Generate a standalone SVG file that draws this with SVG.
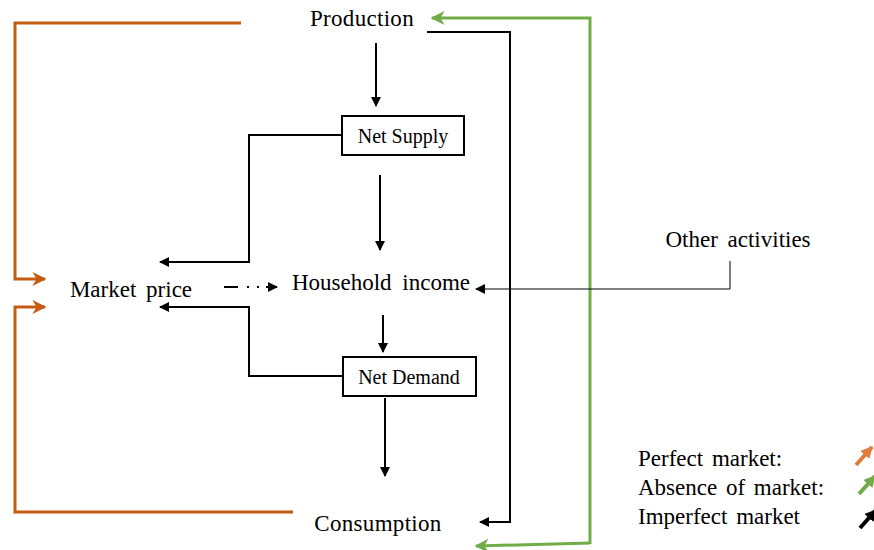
<svg xmlns="http://www.w3.org/2000/svg" width="874" height="550" viewBox="0 0 874 550">
<defs>
<style>
text{font-family:"Liberation Serif","Times New Roman",serif;fill:#000}
.lbl{font-size:23px}
.box{font-size:20px}
.blk{fill:none;stroke:#000;stroke-width:2}
.thin{fill:none;stroke:#000;stroke-width:1}
.org{fill:none;stroke:#C55A11;stroke-width:3}
.grn{fill:none;stroke:#70AD47;stroke-width:3}
</style>
<marker id="ab" viewBox="0 0 10 10" refX="9" refY="5" markerWidth="10" markerHeight="10" markerUnits="userSpaceOnUse" orient="auto"><path d="M0,0L10,5L0,10z" fill="#000"/></marker>
<marker id="ao" viewBox="0 0 10 10" refX="9" refY="5" markerWidth="14" markerHeight="14" markerUnits="userSpaceOnUse" orient="auto"><path d="M0,0L10,5L0,10L3,5z" fill="#C55A11"/></marker>
<marker id="ag" viewBox="0 0 10 10" refX="9" refY="5" markerWidth="14" markerHeight="14" markerUnits="userSpaceOnUse" orient="auto"><path d="M0,0L10,5L0,10L3,5z" fill="#70AD47"/></marker>
<marker id="lo" viewBox="0 0 10 10" refX="9" refY="5" markerWidth="12" markerHeight="16" markerUnits="userSpaceOnUse" orient="auto"><path d="M0,0L10,5L0,10z" fill="#E07B3C"/></marker>
<marker id="lg" viewBox="0 0 10 10" refX="9" refY="5" markerWidth="12" markerHeight="16" markerUnits="userSpaceOnUse" orient="auto"><path d="M0,0L10,5L0,10z" fill="#70AD47"/></marker>
<marker id="lb" viewBox="0 0 10 10" refX="9" refY="5" markerWidth="12" markerHeight="16" markerUnits="userSpaceOnUse" orient="auto"><path d="M0,0L10,5L0,10z" fill="#000"/></marker>
</defs>
<rect width="874" height="550" fill="#fff"/>
<g id="connectors">
<path class="org" d="M241,23H15V279H45" marker-end="url(#ao)"/>
<path class="org" d="M293,512H15V307H45" marker-end="url(#ao)"/>
<path class="grn" d="M590,544V18H432" marker-end="url(#ag)"/>
<path class="grn" d="M590,543L476,546" marker-end="url(#ag)"/>
<path class="blk" d="M427,32H510V522H480" marker-end="url(#ab)"/>
<path class="blk" d="M376,43V106" marker-end="url(#ab)"/>
<path class="blk" d="M380,175V250" marker-end="url(#ab)"/>
<path class="blk" d="M383,315V352" marker-end="url(#ab)"/>
<path class="blk" d="M385,398V476" marker-end="url(#ab)"/>
<path class="blk" d="M342,135H249V262H160" marker-end="url(#ab)"/>
<path class="blk" d="M343,376H249V307H160" marker-end="url(#ab)"/>
<path class="blk" d="M224,287H238"/>
<path class="blk" d="M247,287H249M257,287H259M266,287H277" marker-end="url(#ab)"/>
<path class="thin" d="M730,261V289H476" marker-end="url(#ab)"/>
</g>
<g id="production"><text class="lbl" x="362" y="26" text-anchor="middle" letter-spacing="0.3">Production</text></g>
<g id="net-supply"><rect class="blk" x="342" y="116" width="122" height="39"/><text class="box" x="403" y="143" text-anchor="middle">Net Supply</text></g>
<g id="market-price"><text class="lbl" x="131" y="297" text-anchor="middle" word-spacing="4">Market price</text></g>
<g id="household-income"><text class="lbl" x="381" y="290" text-anchor="middle" word-spacing="5">Household income</text></g>
<g id="other-activities"><text class="lbl" x="738" y="247" text-anchor="middle" word-spacing="4">Other activities</text></g>
<g id="net-demand"><rect class="blk" x="343" y="357" width="133" height="39"/><text class="box" x="409" y="384" text-anchor="middle">Net Demand</text></g>
<g id="consumption"><text class="lbl" x="378" y="531" text-anchor="middle" letter-spacing="0.3">Consumption</text></g>
<g id="legend">
<text class="lbl" x="638" y="466" word-spacing="3">Perfect market:</text>
<text class="lbl" x="638" y="495" word-spacing="3">Absence of market:</text>
<text class="lbl" x="638" y="524" word-spacing="3">Imperfect market</text>
<path d="M856,465L872,447" stroke="#E07B3C" stroke-width="4" marker-end="url(#lo)"/>
<path d="M859,494L875,476" stroke="#70AD47" stroke-width="4" marker-end="url(#lg)"/>
<path d="M860,528L876,510" stroke="#000" stroke-width="4" marker-end="url(#lb)"/>
</g>
</svg>
